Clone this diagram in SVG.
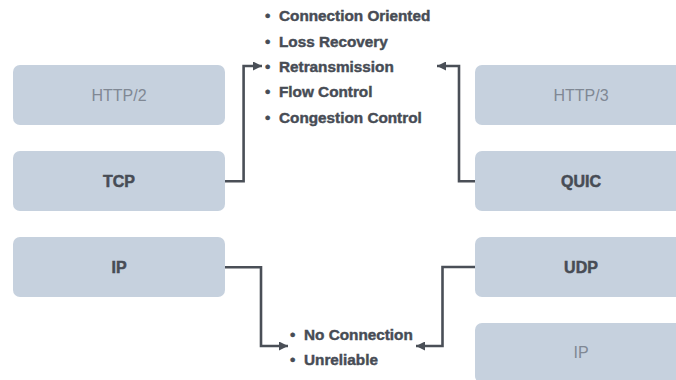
<svg xmlns="http://www.w3.org/2000/svg" width="676" height="380" viewBox="0 0 676 380">
  <defs>
    <marker id="arrow" viewBox="0 0 10 10" refX="10" refY="5" markerWidth="9" markerHeight="9" markerUnits="userSpaceOnUse" orient="auto">
      <path d="M0,0 L10,5 L0,10 Z" fill="#4a4f57"/>
    </marker>
    <style>
      .box { fill: #c6d1de; }
      .lbl { font-family: "Liberation Sans", Arial, sans-serif; font-size: 16px; text-anchor: middle; }
      .lbl-main { font-weight: bold; fill: #474c55; stroke: #474c55; stroke-width: 0.5; }
      .lbl-faint { font-weight: normal; fill: #808894; }
      .wire { fill: none; stroke: #4a4f57; stroke-width: 2.6; }
      .list { font-family: "Liberation Sans", Arial, sans-serif; font-size: 15.3px; font-weight: bold; fill: #474c55; stroke: #474c55; stroke-width: 0.45; }
    </style>
  </defs>

  <!-- left stack -->
  <g id="http2">
    <rect class="box" x="13" y="65" width="212" height="60" rx="7"/>
    <text class="lbl lbl-faint" x="119" y="101">HTTP/2</text>
  </g>
  <g id="tcp">
    <rect class="box" x="13" y="151" width="212" height="60" rx="7"/>
    <text class="lbl lbl-main" x="119" y="187">TCP</text>
  </g>
  <g id="ip-left">
    <rect class="box" x="13" y="237" width="212" height="60" rx="7"/>
    <text class="lbl lbl-main" x="119" y="273">IP</text>
  </g>

  <!-- right stack -->
  <g id="http3">
    <rect class="box" x="475" y="65" width="212" height="60" rx="7"/>
    <text class="lbl lbl-faint" x="581" y="101">HTTP/3</text>
  </g>
  <g id="quic">
    <rect class="box" x="475" y="151" width="212" height="60" rx="7"/>
    <text class="lbl lbl-main" x="581" y="187">QUIC</text>
  </g>
  <g id="udp">
    <rect class="box" x="475" y="237" width="212" height="60" rx="7"/>
    <text class="lbl lbl-main" x="581" y="273">UDP</text>
  </g>
  <g id="ip-right">
    <rect class="box" x="475" y="323" width="212" height="60" rx="7"/>
    <text class="lbl lbl-faint" x="581" y="358">IP</text>
  </g>

  <!-- feature lists -->
  <g id="reliable-features" class="list">
    <text x="265" y="21">•</text><text x="279" y="21">Connection Oriented</text>
    <text x="265" y="46.5">•</text><text x="279" y="46.5">Loss Recovery</text>
    <text x="265" y="72">•</text><text x="279" y="72">Retransmission</text>
    <text x="265" y="97">•</text><text x="279" y="97">Flow Control</text>
    <text x="265" y="122.5">•</text><text x="279" y="122.5">Congestion Control</text>
  </g>
  <g id="unreliable-features" class="list">
    <text x="290" y="340">•</text><text x="304" y="340">No Connection</text>
    <text x="290" y="364.5">•</text><text x="304" y="364.5">Unreliable</text>
  </g>

  <!-- connectors -->
  <g id="connectors">
    <path class="wire" d="M225,181.3 H243.6 V66 H262" marker-end="url(#arrow)"/>
    <path class="wire" d="M475,181.3 H459 V66 H437" marker-end="url(#arrow)"/>
    <path class="wire" d="M225,267.3 H261 V346 H288" marker-end="url(#arrow)"/>
    <path class="wire" d="M475,267 H442.5 V346 H416" marker-end="url(#arrow)"/>
  </g>
</svg>
